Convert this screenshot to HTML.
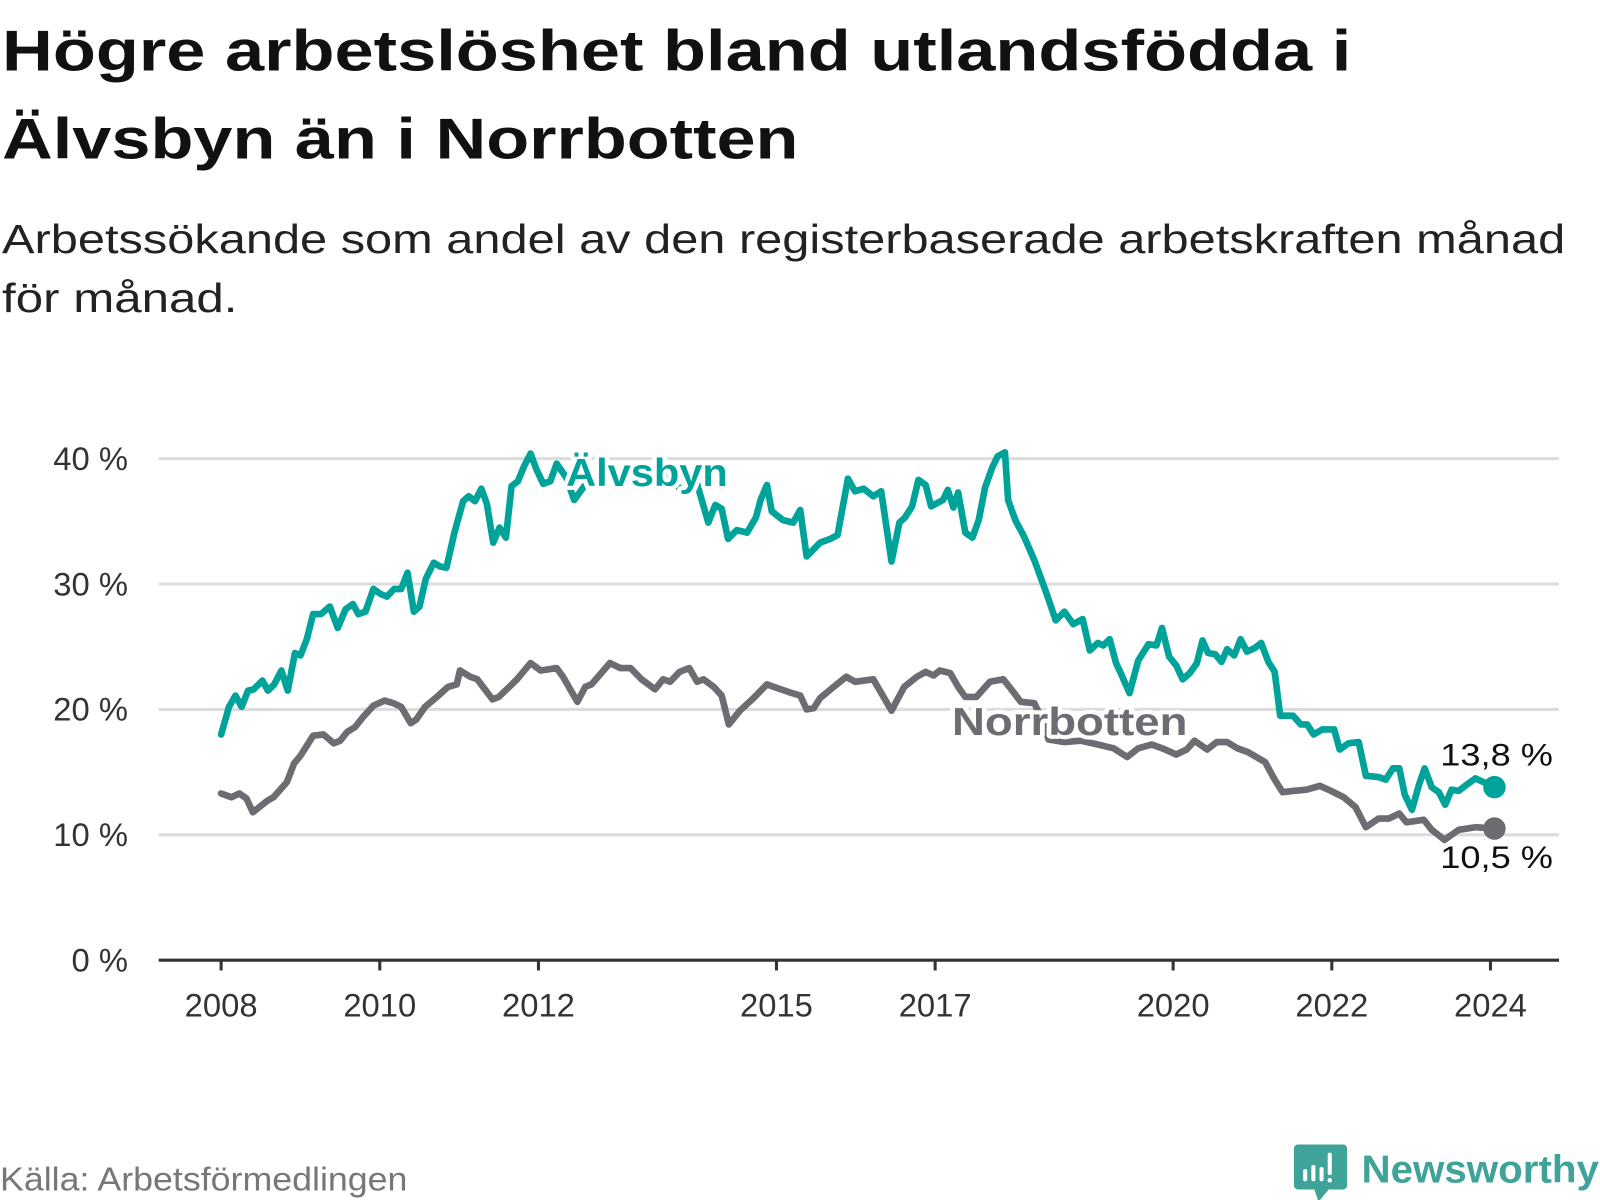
<!DOCTYPE html>
<html><head><meta charset="utf-8">
<style>
html,body{margin:0;padding:0;background:#fff;width:1600px;height:1200px;overflow:hidden}
svg{display:block}
text{font-family:"Liberation Sans",sans-serif}
</style></head>
<body>
<svg id="chart" width="1600" height="1200" viewBox="0 0 1563 1172.25" xmlns="http://www.w3.org/2000/svg">
<text x="2" y="69" font-size="56" font-weight="bold" fill="#111" textLength="1318" lengthAdjust="spacingAndGlyphs">Högre arbetslöshet bland utlandsfödda i</text>
<text x="2" y="155" font-size="56" font-weight="bold" fill="#111" textLength="778" lengthAdjust="spacingAndGlyphs">Älvsbyn än i Norrbotten</text>
<text x="2" y="247" font-size="40" fill="#222" textLength="1527" lengthAdjust="spacingAndGlyphs">Arbetssökande som andel av den registerbaserade arbetskraften månad</text>
<text x="2" y="305" font-size="40" fill="#222" textLength="230" lengthAdjust="spacingAndGlyphs">för månad.</text>
<g id="grid"></g>
<g id="xaxis"></g>
<g id="series"></g>
<g id="labels"></g>
<text x="0" y="1163" font-size="33" fill="#777" textLength="398" lengthAdjust="spacingAndGlyphs">Källa: Arbetsförmedlingen</text>
<g>
<path d="M1268 1118 h44 a4 4 0 0 1 4 4 v36 a4 4 0 0 1 -4 4 h-14 l-10 12 l-4 -12 h-16 a4 4 0 0 1 -4 -4 v-36 a4 4 0 0 1 4 -4z" fill="#3fa39a"/>
<rect x="1273" y="1142" width="4" height="12" rx="2" fill="#fff"/>
<rect x="1281" y="1138" width="4" height="16" rx="2" fill="#fff"/>
<rect x="1289" y="1140" width="4" height="14" rx="2" fill="#fff"/>
<rect x="1297" y="1126" width="4" height="22" rx="2" fill="#fff"/>
<circle cx="1299" cy="1153" r="2.2" fill="#fff"/>
<text x="1330" y="1155" font-size="38" font-weight="bold" fill="#3fa39a" textLength="232" lengthAdjust="spacingAndGlyphs">Newsworthy</text>
</g>
</svg>
<script>
const yTicks=[0,10,20,30,40];
const yTickLabels=["0 %","10 %","20 %","30 %","40 %"];
const xTicks=[2008,2010,2012,2015,2017,2020,2022,2024];
const xTickLabels=["2008","2010","2012","2015","2017","2020","2022","2024"];
const alvDates=[2008.00,2008.10,2008.18,2008.26,2008.34,2008.41,2008.52,2008.59,2008.67,2008.76,2008.84,2008.93,2009.00,2009.08,2009.16,2009.26,2009.37,2009.47,2009.57,2009.66,2009.73,2009.82,2009.92,2010.01,2010.09,2010.18,2010.27,2010.35,2010.43,2010.50,2010.58,2010.68,2010.76,2010.84,2010.94,2011.05,2011.12,2011.20,2011.28,2011.35,2011.43,2011.51,2011.59,2011.66,2011.74,2011.82,2011.90,2011.97,2012.06,2012.15,2012.23,2012.35,2012.45,2012.60,2012.80,2013.00,2013.20,2013.40,2013.60,2013.80,2014.00,2014.04,2014.14,2014.23,2014.31,2014.39,2014.50,2014.63,2014.74,2014.80,2014.88,2014.94,2015.08,2015.21,2015.30,2015.38,2015.55,2015.68,2015.77,2015.90,2015.99,2016.10,2016.22,2016.32,2016.45,2016.55,2016.62,2016.71,2016.79,2016.88,2016.95,2017.10,2017.16,2017.23,2017.29,2017.38,2017.47,2017.55,2017.63,2017.72,2017.79,2017.88,2017.92,2018.01,2018.12,2018.25,2018.39,2018.52,2018.63,2018.74,2018.86,2018.95,2019.05,2019.12,2019.20,2019.28,2019.34,2019.45,2019.56,2019.69,2019.79,2019.86,2019.95,2020.04,2020.12,2020.21,2020.30,2020.37,2020.44,2020.53,2020.61,2020.68,2020.77,2020.85,2020.93,2021.03,2021.11,2021.20,2021.28,2021.35,2021.51,2021.61,2021.69,2021.77,2021.88,2022.03,2022.10,2022.21,2022.34,2022.43,2022.59,2022.68,2022.77,2022.85,2022.92,2023.01,2023.10,2023.17,2023.26,2023.35,2023.43,2023.51,2023.60,2023.68,2023.81,2024.05];
const alvValues=[18.0,20.2,21.1,20.2,21.5,21.6,22.3,21.5,22.0,23.1,21.5,24.5,24.3,25.6,27.6,27.6,28.2,26.5,28.0,28.4,27.6,27.8,29.6,29.2,29.0,29.6,29.6,30.9,27.8,28.2,30.4,31.7,31.4,31.3,34.1,36.6,37.0,36.6,37.6,36.4,33.3,34.5,33.7,37.8,38.2,39.4,40.4,39.2,38.0,38.2,39.6,38.5,36.7,38.0,39.0,38.5,39.2,38.0,38.8,37.5,38.0,37.1,34.9,36.3,36.0,33.6,34.3,34.1,35.3,36.7,37.9,35.8,35.1,34.9,35.9,32.2,33.3,33.6,33.9,38.4,37.4,37.6,37.0,37.4,31.8,34.9,35.3,36.2,38.3,37.9,36.2,36.7,37.5,36.1,37.3,34.1,33.7,35.1,37.7,39.3,40.2,40.5,36.7,35.1,33.8,31.9,29.5,27.1,27.8,26.8,27.2,24.7,25.3,25.1,25.6,23.7,22.9,21.3,23.9,25.2,25.1,26.5,24.2,23.5,22.4,22.9,23.7,25.5,24.5,24.4,23.8,24.8,24.3,25.6,24.6,24.9,25.3,23.8,23.0,19.5,19.5,18.8,18.8,18.0,18.4,18.4,16.8,17.3,17.4,14.7,14.6,14.4,15.3,15.3,13.2,12.0,14.0,15.3,13.8,13.4,12.4,13.6,13.5,13.9,14.5,13.8];
const norDates=[2008.00,2008.13,2008.23,2008.32,2008.40,2008.58,2008.66,2008.83,2008.92,2009.00,2009.16,2009.29,2009.42,2009.50,2009.59,2009.69,2009.79,2009.92,2010.06,2010.17,2010.27,2010.39,2010.46,2010.57,2010.72,2010.86,2010.97,2011.01,2011.14,2011.23,2011.42,2011.50,2011.73,2011.90,2012.03,2012.23,2012.31,2012.49,2012.59,2012.67,2012.90,2013.03,2013.16,2013.30,2013.47,2013.57,2013.66,2013.78,2013.90,2014.00,2014.08,2014.21,2014.31,2014.40,2014.54,2014.71,2014.88,2015.01,2015.15,2015.30,2015.38,2015.47,2015.55,2015.72,2015.88,2015.99,2016.22,2016.35,2016.45,2016.61,2016.77,2016.88,2016.98,2017.06,2017.19,2017.29,2017.38,2017.52,2017.69,2017.86,2017.96,2018.08,2018.25,2018.34,2018.43,2018.63,2018.84,2019.05,2019.25,2019.42,2019.56,2019.73,2019.90,2020.04,2020.17,2020.27,2020.43,2020.55,2020.68,2020.81,2020.94,2021.16,2021.28,2021.38,2021.51,2021.68,2021.85,2021.99,2022.15,2022.30,2022.43,2022.59,2022.72,2022.85,2022.94,2023.16,2023.26,2023.42,2023.60,2023.81,2024.05];
const norValues=[13.3,13.0,13.3,12.9,11.8,12.7,13.0,14.2,15.7,16.3,17.9,18.0,17.3,17.5,18.2,18.6,19.4,20.3,20.7,20.5,20.2,18.9,19.2,20.2,21.0,21.8,22.0,23.1,22.6,22.4,20.8,21.0,22.4,23.7,23.1,23.3,22.6,20.6,21.8,22.0,23.7,23.3,23.3,22.4,21.6,22.4,22.2,23.0,23.3,22.2,22.4,21.8,21.1,18.8,19.9,20.9,22.0,21.7,21.4,21.1,20.0,20.1,20.9,21.8,22.6,22.2,22.4,21.0,19.9,21.8,22.6,23.0,22.7,23.1,22.9,21.8,21.0,21.0,22.2,22.4,21.6,20.6,20.5,19.3,17.6,17.4,17.5,17.2,16.9,16.2,16.9,17.2,16.8,16.4,16.8,17.5,16.8,17.4,17.4,16.9,16.6,15.8,14.4,13.4,13.5,13.6,13.9,13.5,13.0,12.2,10.6,11.3,11.3,11.7,11.0,11.2,10.4,9.6,10.4,10.6,10.5];
const lastLabels=["13,8 %","10,5 %"];

const NS="http://www.w3.org/2000/svg";
const X0=155,X1=1523,Y0=938,Y40=448;
function xs(d){return 216+(d-2008)*77.5;}
function ys(v){return Y0-(Y0-Y40)*v/40;}
function mk(tag,attrs,parent){const e=document.createElementNS(NS,tag);for(const k in attrs)e.setAttribute(k,attrs[k]);parent.appendChild(e);return e;}
const grid=document.getElementById('grid'),xa=document.getElementById('xaxis'),ser=document.getElementById('series'),lab=document.getElementById('labels');
yTicks.forEach((t,i)=>{
  if(t>0){const l=mk('line',{x1:X0,x2:X1,y1:ys(t),y2:ys(t),stroke:'#dcdcdc','stroke-width':3},grid);
  
  }
  const tx=mk('text',{x:125,y:ys(t)+11,'text-anchor':'end','font-size':32,fill:'#333'},grid);
  tx.textContent=yTickLabels[i];
  
  
});
const ax=mk('line',{x1:X0,x2:X1,y1:Y0,y2:Y0,stroke:'#333','stroke-width':3},xa);


xTicks.forEach((t,i)=>{
  const tk=mk('line',{x1:xs(t),x2:xs(t),y1:Y0,y2:Y0+10,stroke:'#333','stroke-width':3},xa);
  
  
  const tx=mk('text',{x:xs(t),y:993,'text-anchor':'middle','font-size':32,fill:'#333'},xa);
  tx.textContent=xTickLabels[i];
  
  
});
function line(dates,vals,color,name){
  const d=dates.map((t,i)=>(i?'L':'M')+xs(t).toFixed(1)+' '+ys(vals[i]).toFixed(1)).join(' ');
  const p=mk('path',{d:d,fill:'none',stroke:color,'stroke-width':6.5,'stroke-linejoin':'round','stroke-linecap':'round'},ser);
  
  
  const n=dates.length-1;
  const c=mk('circle',{cx:xs(dates[n]),cy:ys(vals[n]),r:11,fill:color},ser);
  
  
}
line(norDates,norValues,'#6d6c72','norrbotten');
line(alvDates,alvValues,'#00a39a','alvsbyn');
function label(txt,x,y,color,bold,name,w){
  const a={x:x,y:y,'font-size':bold?38:31,fill:color,stroke:'#fff','stroke-width':8,'paint-order':'stroke','stroke-linejoin':'round'};
  if(bold)a['font-weight']='bold';
  if(w){a.textLength=w;a.lengthAdjust='spacingAndGlyphs';}
  const t=mk('text',a,lab);t.textContent=txt;
  
  
}
label('Älvsbyn',553,475,'#00a39a',true,'alvsbyn-label',158);
label('Norrbotten',930,718,'#6d6c72',true,'norrbotten-label',230);
label(lastLabels[0],1407,748,'#111',false,'alvsbyn-last-value',110);
label(lastLabels[1],1407,848,'#111',false,'norrbotten-last-value',110);
</script>
</body></html>
